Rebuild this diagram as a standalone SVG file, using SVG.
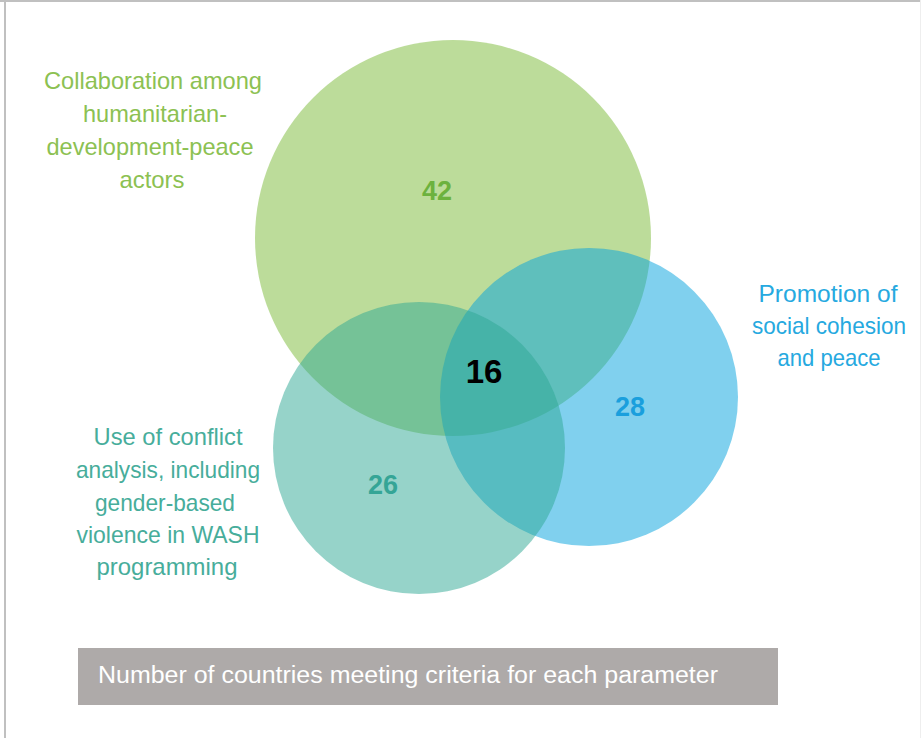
<svg xmlns="http://www.w3.org/2000/svg" width="921" height="738" viewBox="0 0 921 738">
<style>
.lbl{font-family:"Liberation Sans",Arial,sans-serif;font-size:24px;text-anchor:middle}
.num{font-family:"Liberation Sans",Arial,sans-serif;font-weight:bold;text-anchor:middle}
.g{fill:#8cc152}
.b{fill:#26a9e0}
.t{fill:#47ad9b}
</style>
<rect x="0" y="0" width="921" height="738" fill="#ffffff"/>
<line x1="0" y1="1" x2="921" y2="1" stroke="#c0c0c0" stroke-width="2"/>
<line x1="5" y1="0" x2="5" y2="738" stroke="#c0c0c0" stroke-width="2"/>
<line x1="920.5" y1="0" x2="920.5" y2="738" stroke="#eeeeee" stroke-width="1"/>
<g id="circle-collaboration">
<circle cx="453" cy="238" r="198" fill="#79b935" fill-opacity="0.5"/>
</g>
<g id="circle-social-cohesion">
<circle cx="589" cy="397" r="149" fill="#01a1dd" fill-opacity="0.5"/>
</g>
<g id="circle-conflict-analysis">
<circle cx="419" cy="448" r="146" fill="#2da793" fill-opacity="0.5"/>
</g>
<g id="connectors"></g>
<g id="label-collaboration">
<text class="lbl g" x="153" y="89" textLength="218" lengthAdjust="spacingAndGlyphs">Collaboration among</text>
<text class="lbl g" x="155" y="122" textLength="144" lengthAdjust="spacingAndGlyphs">humanitarian-</text>
<text class="lbl g" x="150" y="155" textLength="207" lengthAdjust="spacingAndGlyphs">development-peace</text>
<text class="lbl g" x="152" y="188" textLength="65" lengthAdjust="spacingAndGlyphs">actors</text>
</g>
<g id="label-social-cohesion">
<text class="lbl b" x="828" y="302" textLength="139" lengthAdjust="spacingAndGlyphs">Promotion of</text>
<text class="lbl b" x="829" y="334" textLength="154" lengthAdjust="spacingAndGlyphs">social cohesion</text>
<text class="lbl b" x="829" y="366" textLength="103" lengthAdjust="spacingAndGlyphs">and peace</text>
</g>
<g id="label-conflict-analysis">
<text class="lbl t" x="168" y="445" textLength="149" lengthAdjust="spacingAndGlyphs">Use of conflict</text>
<text class="lbl t" x="168" y="478" textLength="184" lengthAdjust="spacingAndGlyphs">analysis, including</text>
<text class="lbl t" x="165" y="511" textLength="140" lengthAdjust="spacingAndGlyphs">gender-based</text>
<text class="lbl t" x="168" y="543" textLength="183" lengthAdjust="spacingAndGlyphs">violence in WASH</text>
<text class="lbl t" x="167" y="575" textLength="141" lengthAdjust="spacingAndGlyphs">programming</text>
</g>
<g id="numbers">
<text class="num" x="437" y="200" font-size="27" fill="#6cb23e">42</text>
<text class="num" x="630" y="416" font-size="27" fill="#1a9fdd">28</text>
<text class="num" x="383" y="494" font-size="27" fill="#35a596">26</text>
<text class="num" x="484" y="383" font-size="33" fill="#000000">16</text>
</g>
<g id="caption">
<rect x="78" y="648" width="700" height="57" fill="#aeaaa9"/>
<text x="98" y="683" font-family="Liberation Sans, Arial, sans-serif" font-size="23" fill="#ffffff" textLength="620" lengthAdjust="spacingAndGlyphs">Number of countries meeting criteria for each parameter</text>
</g>
</svg>
